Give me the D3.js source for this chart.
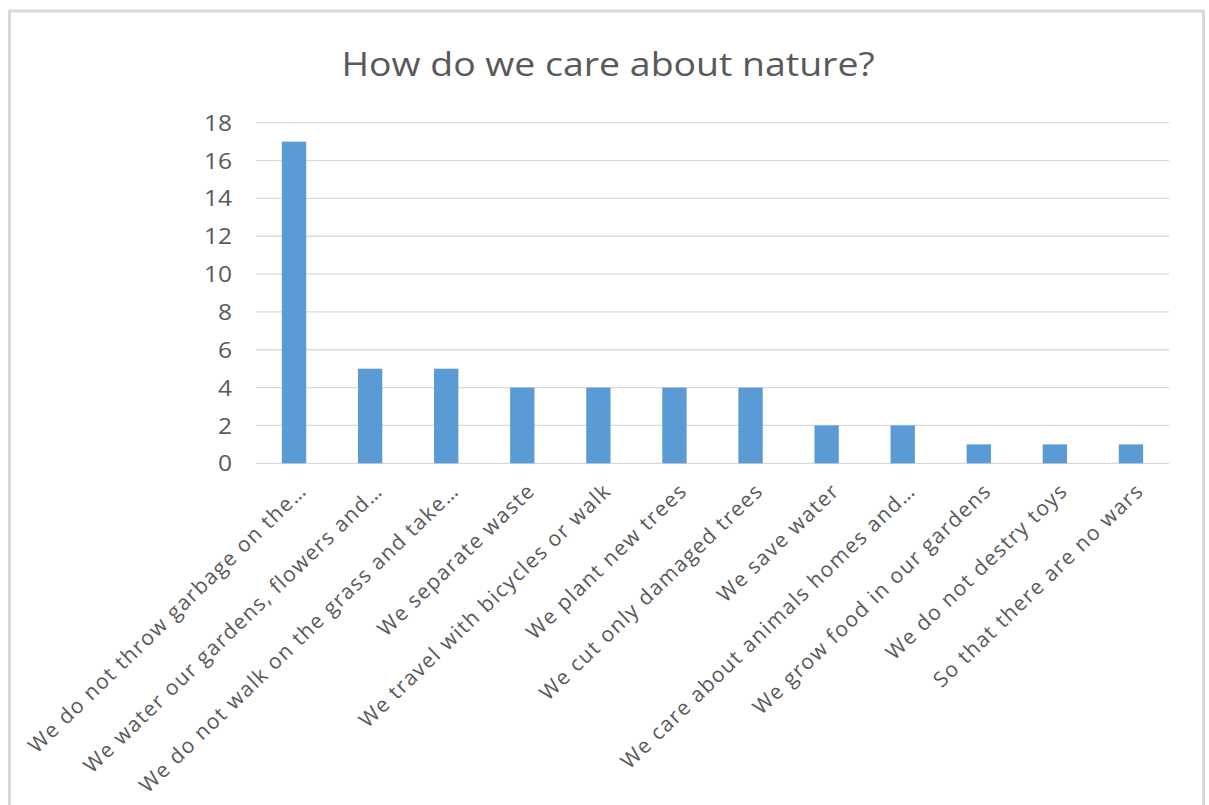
<!DOCTYPE html>
<html><head><meta charset="utf-8">
<script src="https://cdn.jsdelivr.net/npm/d3@7"></script>
<style>html,body{margin:0;padding:0;background:#fff;}svg{display:block;}</style>
</head><body>
<svg id="c" width="1209" height="805"></svg>
<script>
const categories = [
  "We do not throw garbage on the…",
  "We water our gardens, flowers and…",
  "We do not walk on the grass and take…",
  "We separate waste",
  "We travel with bicycles or walk",
  "We plant new trees",
  "We cut only damaged trees",
  "We save water",
  "We care about animals homes and…",
  "We grow food in our gardens",
  "We do not destry toys",
  "So that there are no wars"
];
const values = [17, 5, 5, 4, 4, 4, 4, 2, 2, 1, 1, 1];
const yTicks = [0, 2, 4, 6, 8, 10, 12, 14, 16, 18];
const title = "How do we care about nature?";

const svg = d3.select("#c");
const font = "'Open Sans', 'Noto Sans', sans-serif";
const sx = 1.17;
svg.append("rect").attr("x", 9.5).attr("y", 11).attr("width", 1194).attr("height", 820)
  .attr("fill", "#fff").attr("stroke", "#d9d9d9").attr("stroke-width", 3);

const x = d3.scaleBand().domain(categories).range([256, 1169]).paddingInner(0.68).paddingOuter(0.34);
const y = d3.scaleLinear().domain([0, 18]).range([463.3, 122.7]);

svg.append("g").selectAll("line").data(yTicks).join("line")
  .attr("x1", 256).attr("x2", 1169)
  .attr("y1", d => y(d)).attr("y2", d => y(d))
  .attr("stroke", "#d9d9d9").attr("stroke-width", 1.3);

const yAxis = svg.append("g").attr("transform", "translate(256,0)")
  .call(d3.axisLeft(y).tickValues(yTicks).tickSize(0));
yAxis.select(".domain").remove();
yAxis.selectAll("text").attr("font-family", font).attr("font-size", 21).attr("fill", "#595959")
  .attr("x", -24 / sx).attr("dy", "0.36em").attr("transform", `scale(${sx},1)`);

svg.append("g").selectAll("rect").data(values).join("rect")
  .attr("x", (d, i) => x(categories[i]))
  .attr("width", x.bandwidth())
  .attr("y", d => y(d))
  .attr("height", d => y(0) - y(d))
  .attr("fill", "#5b9bd5");

const xAxis = svg.append("g").attr("transform", "translate(0,463.3)")
  .call(d3.axisBottom(x).tickSize(0).tickPadding(0));
xAxis.select(".domain").remove();
xAxis.selectAll("text")
  .attr("font-family", font).attr("font-size", 21).attr("fill", "#595959")
  .attr("letter-spacing", 1.4)
  .attr("text-anchor", "end")
  .attr("y", 0).attr("dy", null)
  .attr("transform", "translate(14,29) rotate(-44)");

svg.append("text").attr("transform", `translate(608,76) scale(${sx},1)`).attr("text-anchor", "middle")
  .attr("font-family", font).attr("font-size", 32).attr("fill", "#595959").text(title);
</script>
</body></html>
